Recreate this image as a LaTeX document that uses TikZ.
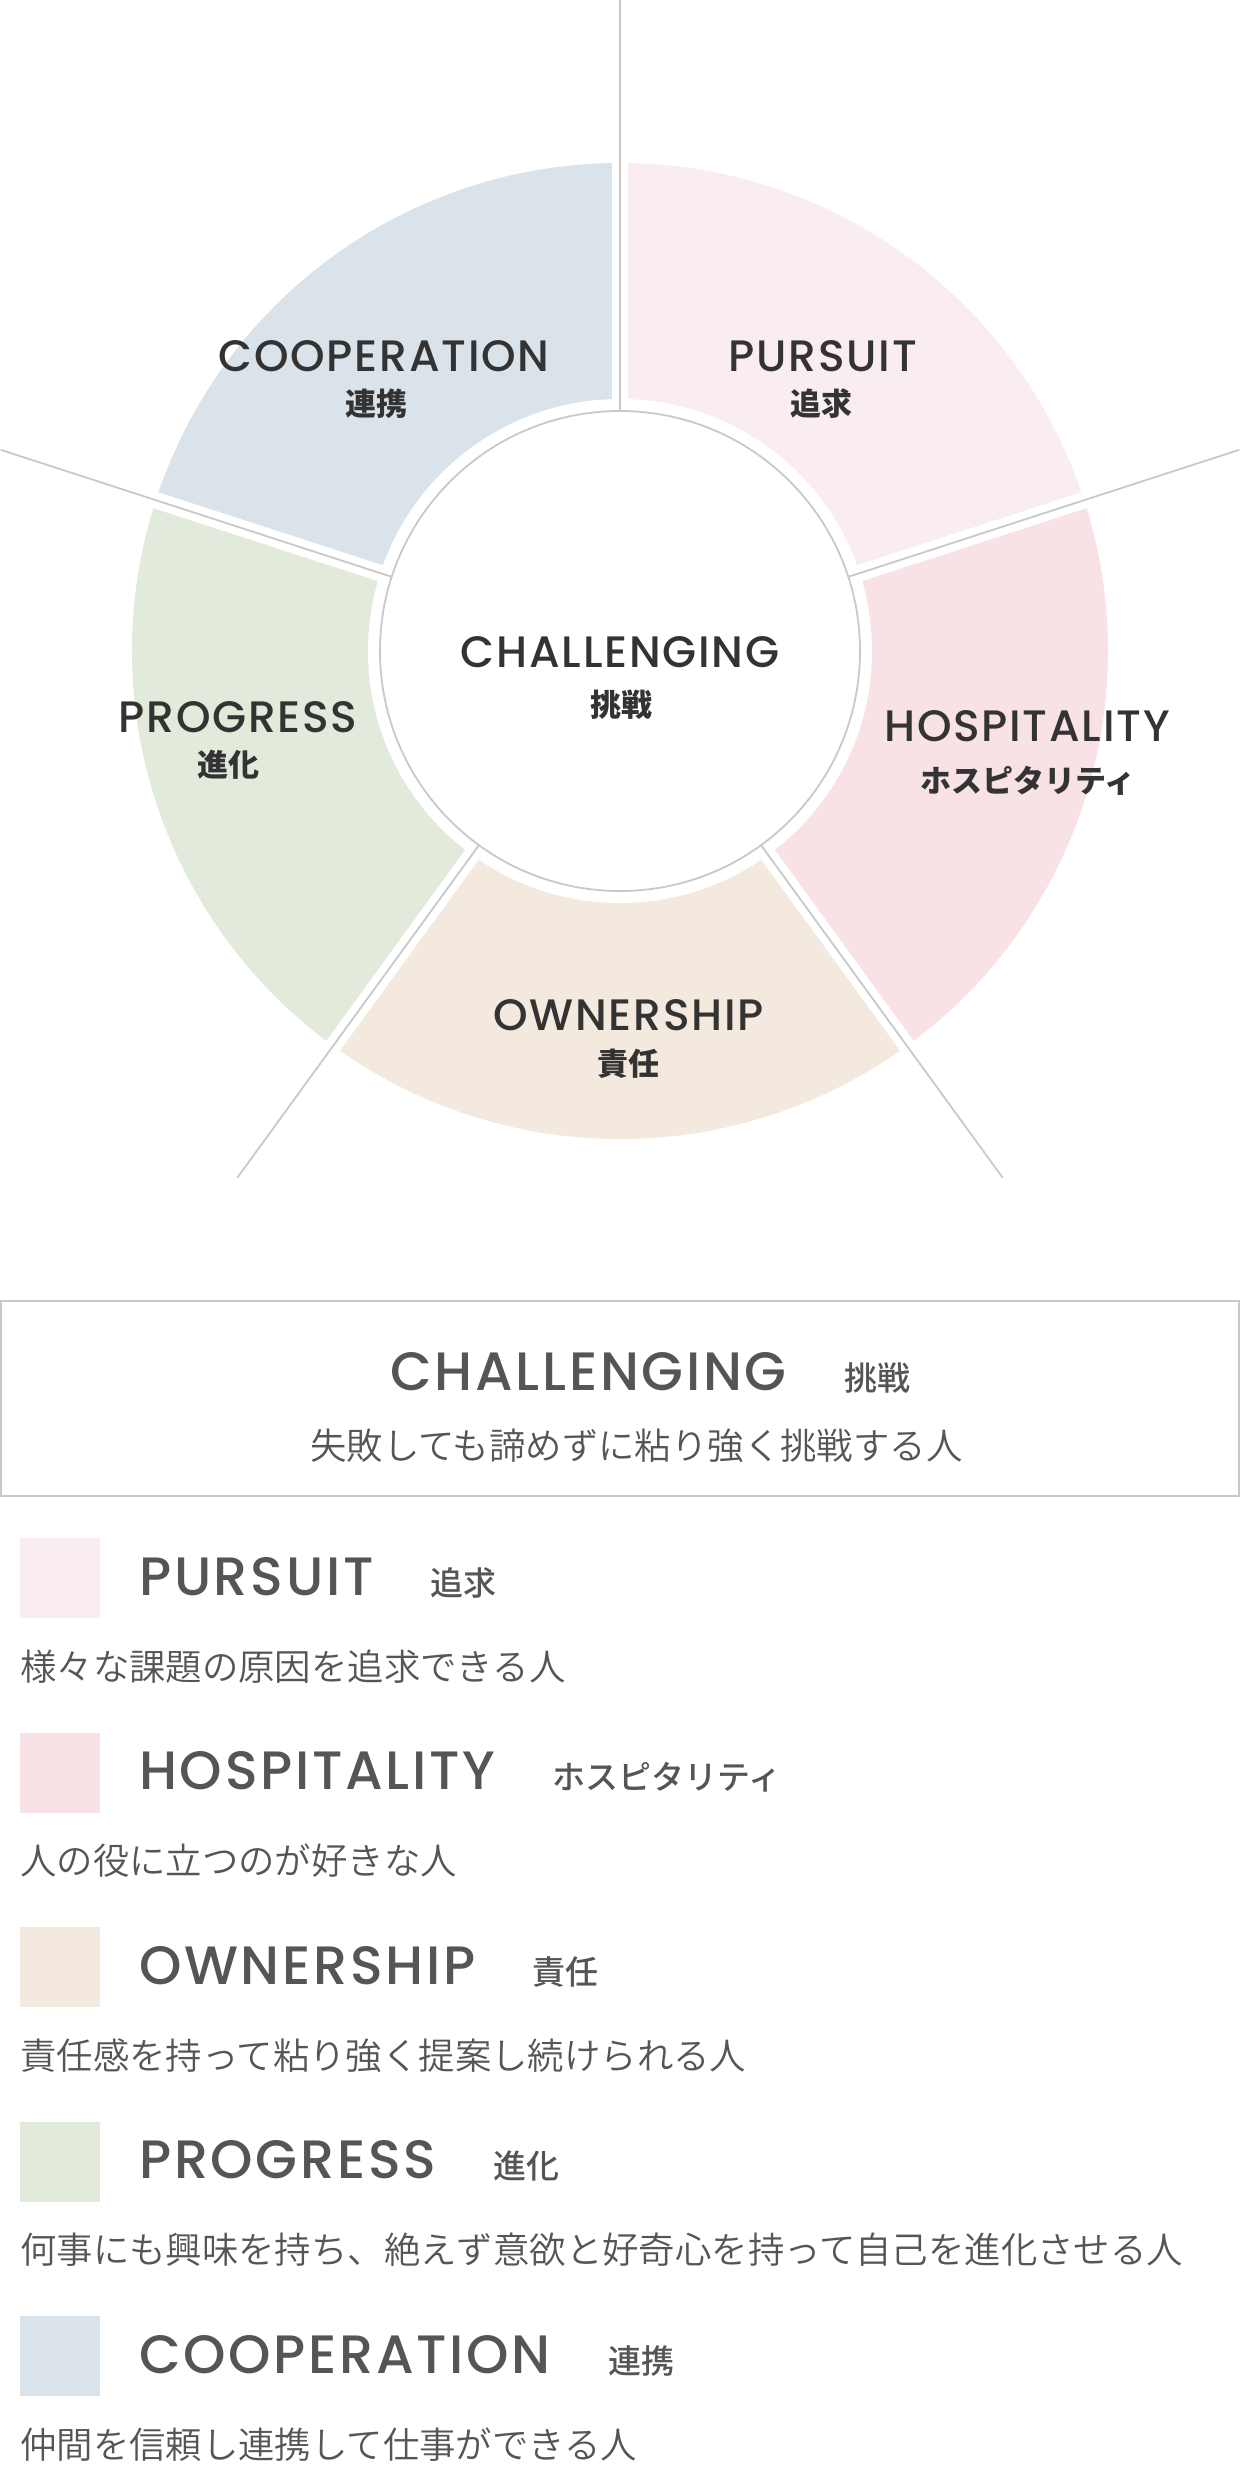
\documentclass[tikz,border=0pt]{standalone}
\usepackage{fontspec}
\setmainfont{Poppins}
\newfontfamily\popm{Poppins Medium}[LetterSpace=4]
\newfontfamily\popl{Poppins Medium}[LetterSpace=5]
\newfontfamily\jp{Noto Sans CJK JP}
\newfontfamily\jpm{Noto Sans CJK JP Medium}
\newfontfamily\jpl{Noto Sans CJK JP DemiLight}
\definecolor{cPur}{HTML}{F9EDF1}
\definecolor{cHos}{HTML}{F8E2E5}
\definecolor{cOwn}{HTML}{F3E9DE}
\definecolor{cPro}{HTML}{E2EADC}
\definecolor{cCoo}{HTML}{D9E3E9}
\definecolor{cLine}{HTML}{C9C9C9}
\definecolor{cDark}{HTML}{333333}
\definecolor{cGrey}{HTML}{555555}
\definecolor{cDesc}{HTML}{555555}
\tikzset{
  whl/.style={font=\popm\fontsize{44}{50}\selectfont, text=cDark, inner sep=0pt, anchor=base},
  whj/.style={font=\jp\bfseries\fontsize{31}{36}\selectfont, text=cDark, inner sep=0pt, anchor=base},
  lgt/.style={font=\popl\fontsize{54}{60}\selectfont, text=cGrey, inner sep=0pt, anchor=base west},
  lgj/.style={font=\jpm\fontsize{33}{38}\selectfont, text=cGrey, inner sep=0pt, anchor=base west},
  lgd/.style={font=\jpl\fontsize{36.4}{42}\selectfont, text=cDesc, inner sep=0pt, anchor=base west},
  sepline/.style={draw=cLine, line width=1.8pt},
}
\begin{document}
\begin{tikzpicture}[x=1pt,y=1pt]
\useasboundingbox (0,0) rectangle (1240,-2469);
\coordinate (C) at (620,-651);
% sectors
\fill[cPur] (C) -- ++(18:488) arc[start angle=18,end angle=90,radius=488] -- cycle;
\fill[cHos] (C) -- ++(-54:488) arc[start angle=-54,end angle=18,radius=488] -- cycle;
\fill[cOwn] (C) -- ++(-126:488) arc[start angle=-126,end angle=-54,radius=488] -- cycle;
\fill[cPro] (C) -- ++(162:488) arc[start angle=162,end angle=234,radius=488] -- cycle;
\fill[cCoo] (C) -- ++(90:488) arc[start angle=90,end angle=162,radius=488] -- cycle;
% white gaps
\foreach \a in {90,18,-54,-126,162}
  \draw[white, line width=16.6pt] (C) -- ++(\a:500);
\fill[white] (C) circle[radius=252];
\draw[cLine, line width=1.8pt] (C) circle[radius=240];
\foreach \a in {90,18,-54,-126,162}
  \draw[sepline] (C) ++(\a:240) -- ++(\a:411);
% wheel labels
\node[whl] (wc) at (620,-667) {CHALLENGING};
\node[whj] (wcj) at (621,-716) {挑戦};
\node[whl] (wp) at (823,-371) {PURSUIT};
\node[whj] (wpj) at (821.5,-415) {追求};
\node[whl] (wco) at (384,-371) {COOPERATION};
\node[whj] (wcoj) at (376,-415) {連携};
\node[whl] (wpr) at (238,-732) {PROGRESS};
\node[whj] (wprj) at (228,-776) {進化};
\node[whl] (wh) at (1027,-741) {HOSPITALITY};
\node[whj] (whj1) at (1028,-792) {ホスピタリティ};
\node[whl] (wo) at (628.5,-1030) {OWNERSHIP};
\node[whj] (woj) at (628,-1075) {責任};
% legend box
\draw[cLine, line width=2pt] (1,-1301) rectangle (1239,-1496);
\node[lgt] (bt) at (390,-1390) {CHALLENGING};
\node[lgj] (btj) at ([xshift=58pt]bt.base east) {挑戦};
\node[lgd] (btd) at (310,-1459) {失敗しても諦めずに粘り強く挑戦する人};
% legend rows
\foreach \i/\col/\ttl/\jpn/\dsc in {
  0/cPur/PURSUIT/追求/様々な課題の原因を追求できる人,
  1/cHos/HOSPITALITY/ホスピタリティ/人の役に立つのが好きな人,
  2/cOwn/OWNERSHIP/責任/責任感を持って粘り強く提案し続けられる人,
  3/cPro/PROGRESS/進化/何事にも興味を持ち、絶えず意欲と好奇心を持って自己を進化させる人,
  4/cCoo/COOPERATION/連携/仲間を信頼し連携して仕事ができる人}{
  \pgfmathsetmacro{\T}{1538+194.5*\i}
  \fill[\col] (20,-\T) rectangle (100,{-\T-80});
  \node[lgt] (lt\i) at (139,{-\T-57}) {\ttl};
  \node[lgj] (lj\i) at ([xshift=57pt]lt\i.base east) {\jpn};
  \node[lgd] (ld\i) at (20,{-\T-142}) {\dsc};
}
\end{tikzpicture}
\end{document}
